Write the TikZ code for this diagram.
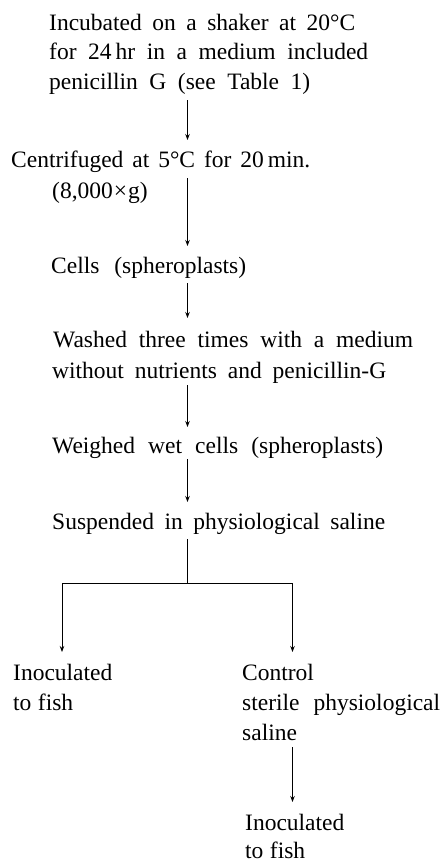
\documentclass[tikz,border=0pt]{standalone}
\usepackage{fontspec}
\setmainfont{Liberation Serif}
\usetikzlibrary{arrows.meta,calc}
\newcommand{\fitline}[2]{\makebox[#1pt][s]{#2}}
\tikzset{
  txt/.style={inner sep=0pt, anchor=base west, align=left, font=\fontsize{23.5}{30}\selectfont},
  arr/.style={-{Stealth[length=6pt,width=4.5pt]}, line width=0.9pt},
  wire/.style={line width=0.9pt},
}
\begin{document}
\begin{tikzpicture}[x=1pt,y=-1pt]
\useasboundingbox (0,0) rectangle (442,863);
\coordinate (ax) at (187.5,0);
\coordinate (lx) at (62,0);
\coordinate (rx) at (292.5,0);

% multi-line nodes: the base anchor is the baseline of the LAST line
\node[txt, font=\fontsize{23.5}{29.5}\selectfont] (b1) at (49,89)
  {\fitline{306}{Incubated on a shaker at 20°C}\\
   \fitline{319}{for 24\,hr in a medium included}\\
   \fitline{261}{penicillin G (see Table 1)}};
\node[txt, font=\fontsize{23.5}{31}\selectfont] (b2) at (11,198)
  {\fitline{299}{Centrifuged at 5°C for 20\,min.}\\
   \hspace*{41pt}(8,000\kern1pt×\kern1pt g)};
\node[txt] (b3) at (51,273) {\fitline{195}{Cells (spheroplasts)}};
\node[txt, font=\fontsize{23.5}{31}\selectfont] (b4) at (53,378)
  {\fitline{360}{Washed three times with a medium}\\
   \hspace*{-1pt}\fitline{334}{without nutrients and penicillin-G}};
\node[txt] (b5) at (52,453) {\fitline{331}{Weighed wet cells (spheroplasts)}};
\node[txt] (b6) at (52,529) {\fitline{333}{Suspended in physiological saline}};
\node[txt] (b7) at (13,710) {Inoculated\\\fitline{60}{to fish}};
\node[txt] (b8) at (242,740) {Control\\\fitline{198}{sterile physiological}\\saline};
\node[txt, font=\fontsize{23.5}{28}\selectfont] (b9) at (245,858) {Inoculated\\\fitline{60}{to fish}};

\draw[arr] ([yshift=-11pt]b1.base -| ax) -- ([yshift=58pt]b2.base -| ax);
\draw[arr] ([yshift=20pt]b2.base -| ax) -- ([yshift=27pt]b3.base -| ax);
\draw[arr] ([yshift=-10pt]b3.base -| ax) -- ([yshift=60pt]b4.base -| ax);
\draw[arr] ([yshift=-7pt]b4.base -| ax) -- ([yshift=26pt]b5.base -| ax);
\draw[arr] ([yshift=-6pt]b5.base -| ax) -- ([yshift=27pt]b6.base -| ax);
\coordinate (split) at ($(ax)+(0,583)$);
\draw[wire] ([yshift=-10pt]b6.base -| ax) -- (split);
\draw[arr] (split) -| ([yshift=58pt]b7.base -| lx);
\draw[arr] (split) -| ([yshift=88pt]b8.base -| rx);
\draw[arr] ([yshift=-7pt]b8.base -| rx) -- ([yshift=56pt]b9.base -| rx);
\end{tikzpicture}
\end{document}
